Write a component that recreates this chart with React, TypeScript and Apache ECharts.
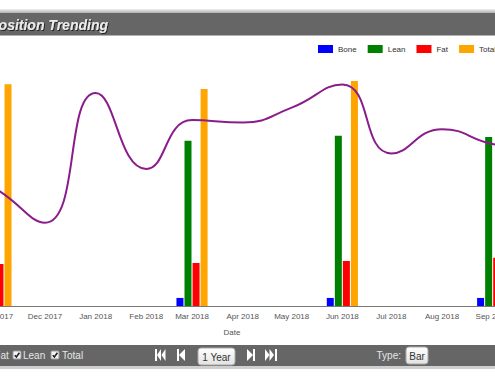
import React, { useEffect, useRef } from "react";
import * as echarts from "echarts";

const monthTicks = [
  "2017-11-01", "2017-12-01", "2018-01-01", "2018-02-01", "2018-03-01", "2018-04-01",
  "2018-05-01", "2018-06-01", "2018-07-01", "2018-08-01", "2018-09-01",
];
const scanDates = ["2017-11-01", "2018-03-01", "2018-06-01", "2018-09-01"];
const boneValues = [6.2, 6.2, 6.2, 6.2];
const leanValues = [131, 127.2, 131.0, 130.0];
const fatValues = [32.3, 33.1, 34.6, 37.2];
const totalValues = [170.5, 166.9, 173.1, 174.0];

const trendDates = [
  "2017-10-01", "2017-11-01", "2017-12-01", "2018-01-01", "2018-02-01", "2018-03-01",
  "2018-04-01", "2018-05-01", "2018-06-01", "2018-07-01", "2018-08-01", "2018-09-01", "2018-10-01",
];
const trendValues = [54.2, 45.0, 32.0, 81.9, 52.7, 71.5, 70.6, 76.3, 85.2, 58.7, 68.0, 62.3, 60];

const legendNames = ["Bone", "Lean", "Fat", "Total"];
const barColors = ["#0000ff", "#008000", "#ff0000", "#ffa500"];
const monthNames = ["Jan", "Feb", "Mar", "Apr", "May", "Jun", "Jul", "Aug", "Sep", "Oct", "Nov", "Dec"];

const ts = (d: string) => {
  const [y, m, dd] = d.split("-").map(Number);
  return Date.UTC(y, m - 1, dd);
};

const FONT = "Arial, 'Liberation Sans', sans-serif";

export default function App() {
  const ref = useRef<HTMLDivElement>(null);
  useEffect(() => {
    document.body.style.margin = "0";
    document.body.style.overflow = "hidden";
    const chart = echarts.init(ref.current!, null, { renderer: "svg" });
    const barSeries = [boneValues, leanValues, fatValues, totalValues].map((vals, i) => ({
      name: legendNames[i],
      type: "bar",
      xAxisIndex: 0,
      yAxisIndex: 0,
      barWidth: 7,
      barGap: "15%",
      itemStyle: { color: barColors[i] },
      data: scanDates.map((d, j) => [ts(d), vals[j]]),
    }));
    const check = (x: number, y: number) => [
      { type: "rect", shape: { x, y, width: 8, height: 8, r: 1 }, style: { fill: "#f4f4f4", stroke: "#999", lineWidth: 1 } },
      { type: "polyline", shape: { points: [[x + 1.8, y + 4.2], [x + 3.4, y + 6], [x + 6.4, y + 1.8]] }, style: { stroke: "#222", lineWidth: 1.6, fill: null } },
    ];
    const tri = (pts: number[][]) => ({ type: "polygon", shape: { points: pts }, style: { fill: "#ffffff" } });
    const bar = (x: number) => ({ type: "rect", shape: { x, y: 349, width: 2, height: 12 }, style: { fill: "#ffffff" } });
    const button = (x: number, y: number, w: number, h: number, label: string) => [
      {
        type: "rect",
        shape: { x, y, width: w, height: h, r: 3 },
        style: {
          fill: new echarts.graphic.LinearGradient(0, 0, 0, 1, [
            { offset: 0, color: "#ffffff" },
            { offset: 1, color: "#e2e2e2" },
          ]),
          stroke: "#aaa",
          lineWidth: 1,
        },
      },
      { type: "text", x: x + w / 2, y: y + h / 2 + 0.5, style: { text: label, fill: "#333", font: `10px ${FONT}`, align: "center", verticalAlign: "middle" } },
    ];
    chart.setOption({
      animation: false,
      backgroundColor: "#ffffff",
      legend: {
        data: legendNames,
        left: 318,
        top: 45,
        width: 300,
        itemWidth: 15,
        itemHeight: 8,
        itemGap: 11,
        icon: "rect",
        padding: 0,
        textStyle: { fontSize: 8, color: "#333", fontFamily: FONT },
      },
      grid: { left: -54.7, right: -46.7, top: 46, bottom: 75, outerBoundsMode: "none" },
      xAxis: {
        type: "value",
        min: ts("2017-10-01"),
        max: ts("2018-10-01"),
        axisLine: { show: true, onZero: false, lineStyle: { color: "#777", width: 1 } },
        axisTick: { show: false },
        splitLine: { show: false },
        axisLabel: {
          customValues: monthTicks.map(ts),
          fontSize: 8,
          color: "#555",
          fontFamily: FONT,
          margin: 6,
          formatter: (v: number) => {
            const d = new Date(v);
            return `${monthNames[d.getUTCMonth()]} ${d.getUTCFullYear()}`;
          },
        },
      },
      yAxis: [
        { type: "value", min: 0, max: 200, show: false, splitLine: { show: false } },
        { type: "value", min: 0, max: 100, show: false, splitLine: { show: false } },
      ],
      series: [
        ...barSeries,
        {
          name: "Trend",
          type: "line",
          xAxisIndex: 0,
          yAxisIndex: 1,
          smooth: 0.5,
          symbol: "none",
          lineStyle: { color: "#8b1c8b", width: 2 },
          data: trendDates.map((d, j) => [ts(d), trendValues[j]]),
          z: 5,
        },
      ],
      graphic: [
        {
          type: "rect",
          shape: { x: 0, y: 9, width: 495, height: 4 },
          style: {
            fill: new echarts.graphic.LinearGradient(0, 0, 0, 1, [
              { offset: 0, color: "#f0f0f0" },
              { offset: 1, color: "#b0b0b0" },
            ]),
          },
        },
        { type: "rect", shape: { x: 0, y: 13, width: 495, height: 22.5 }, style: { fill: "#666666" } },
        {
          type: "text",
          x: 108,
          y: 24.5,
          style: {
            text: "Body Composition Trending",
            font: `italic bold 14px ${FONT}`,
            fill: "#ececec",
            align: "right",
            verticalAlign: "middle",
            textShadowColor: "#222",
            textShadowBlur: 1,
            textShadowOffsetX: 1,
            textShadowOffsetY: 1,
          },
        },
        { type: "text", x: 232, y: 332, style: { text: "Date", font: `8px ${FONT}`, fill: "#555", align: "center", verticalAlign: "middle" } },
        { type: "rect", shape: { x: 0, y: 345, width: 495, height: 21 }, style: { fill: "#666666" } },
        { type: "rect", shape: { x: 0, y: 366, width: 495, height: 3 }, style: { fill: "#cfcfcf" } },
        { type: "text", x: 8.8, y: 355.5, style: { text: "Fat", font: `10px ${FONT}`, fill: "#e6e6e6", align: "right", verticalAlign: "middle" } },
        ...check(13, 351),
        { type: "text", x: 23, y: 355.5, style: { text: "Lean", font: `10px ${FONT}`, fill: "#e6e6e6", align: "left", verticalAlign: "middle" } },
        ...check(51, 351),
        { type: "text", x: 62, y: 355.5, style: { text: "Total", font: `10px ${FONT}`, fill: "#e6e6e6", align: "left", verticalAlign: "middle" } },
        bar(155),
        tri([[161, 349], [157, 355], [161, 361]]),
        tri([[165.5, 349], [161.5, 355], [165.5, 361]]),
        bar(177),
        tri([[185, 349], [179, 355], [185, 361]]),
        ...button(198, 348, 37, 17, "1 Year"),
        tri([[247, 349], [253, 355], [247, 361]]),
        bar(253),
        tri([[265, 349], [269.5, 355], [265, 361]]),
        tri([[269.5, 349], [274, 355], [269.5, 361]]),
        bar(275),
        { type: "text", x: 401, y: 355.5, style: { text: "Type:", font: `10px ${FONT}`, fill: "#e6e6e6", align: "right", verticalAlign: "middle" } },
        ...button(406, 347, 22, 17, "Bar"),
      ],
    });
    return () => chart.dispose();
  }, []);
  return <div ref={ref} style={{ position: "fixed", left: 0, top: 0, width: 495, height: 381 }} />;
}
